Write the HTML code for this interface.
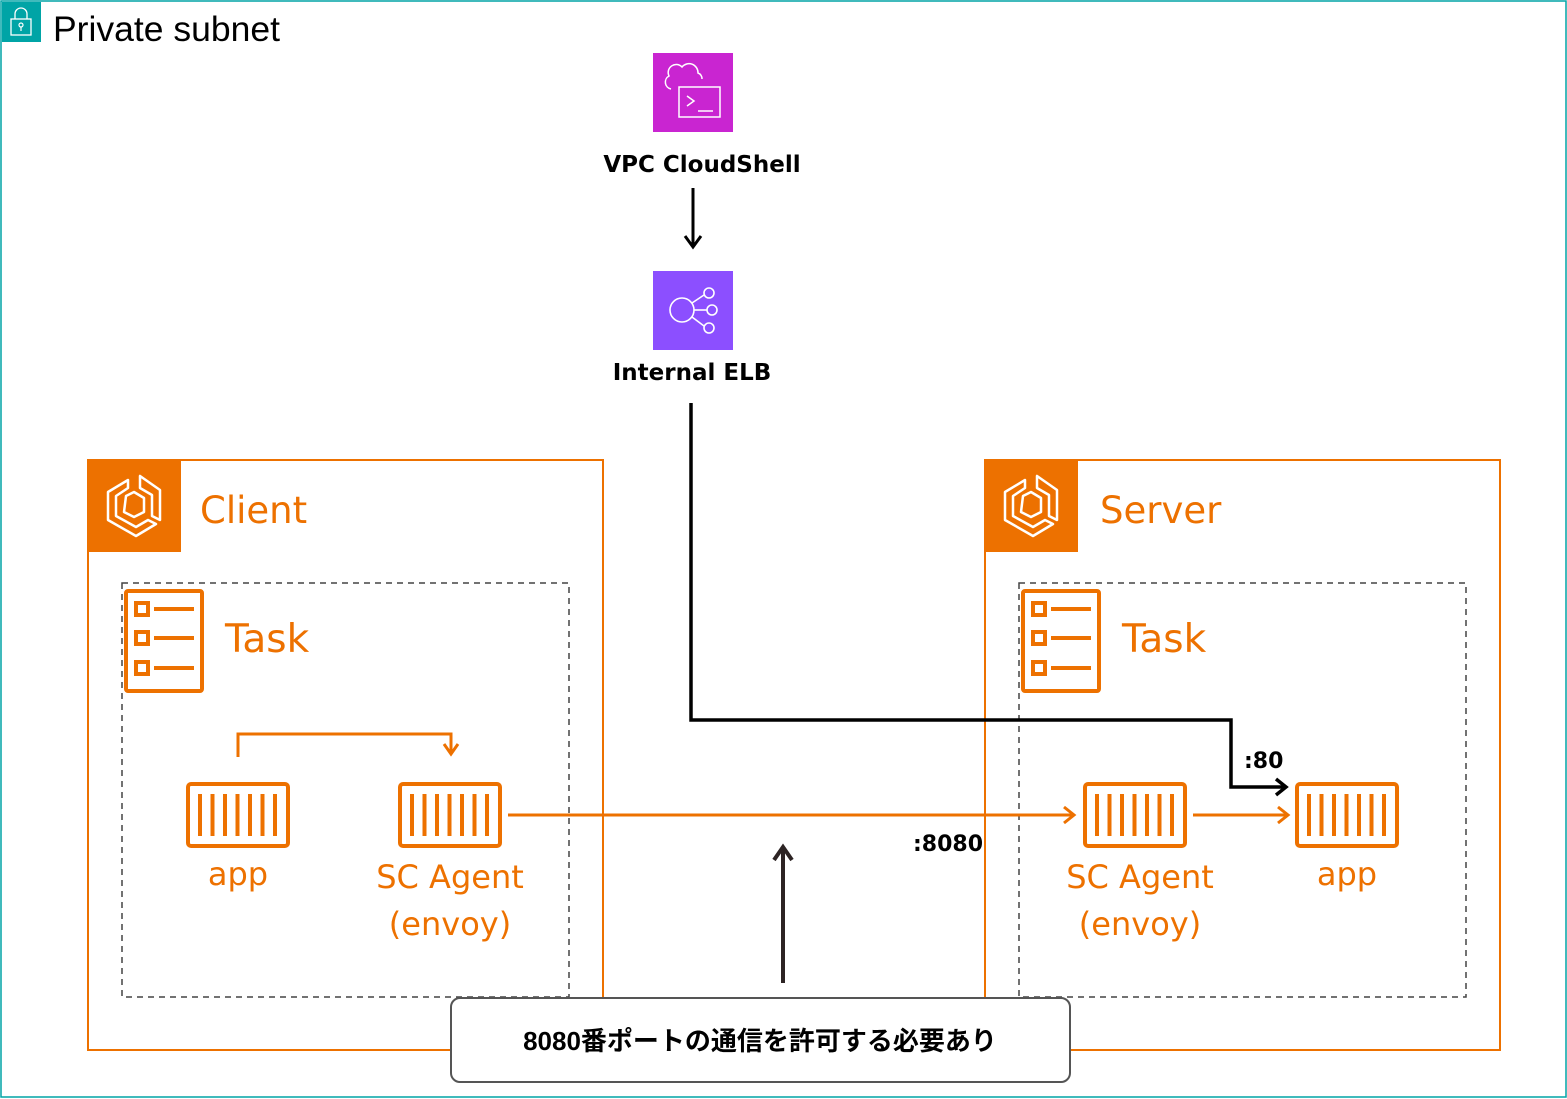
<!DOCTYPE html>
<html><head><meta charset="utf-8"><style>
html,body{margin:0;padding:0;background:#fff}
svg{display:block}
</style></head><body>
<svg width="1567" height="1099" viewBox="0 0 1567 1099" xmlns="http://www.w3.org/2000/svg">
<defs>
<g id="ctr">
<rect x="2" y="2" width="100" height="62" rx="3" fill="none" stroke="#ED7100" stroke-width="4"/>
<g stroke="#ED7100" stroke-width="4">
<line x1="14" y1="12" x2="14" y2="54"/><line x1="26.5" y1="12" x2="26.5" y2="54"/><line x1="39" y1="12" x2="39" y2="54"/><line x1="51.5" y1="12" x2="51.5" y2="54"/><line x1="64" y1="12" x2="64" y2="54"/><line x1="76.5" y1="12" x2="76.5" y2="54"/><line x1="89" y1="12" x2="89" y2="54"/>
</g></g>
<g id="task">
<rect x="2" y="2" width="76" height="100" rx="2" fill="none" stroke="#ED7100" stroke-width="4"/>
<g fill="none" stroke="#ED7100" stroke-width="4">
<rect x="12" y="14" width="12" height="12"/><rect x="12" y="43" width="12" height="12"/><rect x="12" y="73" width="12" height="12"/>
</g>
<g stroke="#ED7100" stroke-width="4"><line x1="30" y1="20" x2="70" y2="20"/><line x1="30" y1="49" x2="70" y2="49"/><line x1="30" y1="79" x2="70" y2="79"/></g>
</g>
<g id="ecs">
<rect x="0" y="0" width="93" height="92" fill="#ED7100"/>
<g fill="none" stroke="#fff" stroke-width="2.5" stroke-linejoin="round">
<path d="M40 20 L20 32 L20 60 L48 76 L68 64 L60 60 L48 67 L28 56 L28 36 L40 28 Z"/>
<path d="M52 16 L52 28 L64 35 L64 56 L72 60 L72 30 Z"/>
<path d="M38 36 L46 32 L56 38 L56 52 L46 57 L36 52 Z"/>
</g></g>
</defs>

<rect x="1" y="1" width="1565" height="1096" fill="none" stroke="#00A4A6" stroke-width="1.5"/>
<rect x="2" y="2" width="39" height="40" fill="#00A4A6"/>
<path d="M15 19 v-5 a6 6 0 0 1 12 0 v5" fill="none" stroke="#fff" stroke-width="1.3"/>
<rect x="11" y="19" width="20" height="16" fill="none" stroke="#fff" stroke-width="1.3"/>
<circle cx="21" cy="25" r="2" fill="none" stroke="#fff" stroke-width="1.2"/><line x1="21" y1="27" x2="21" y2="31" stroke="#fff" stroke-width="1.2"/>
<text x="53" y="41" font-family="Liberation Sans, sans-serif" font-size="35.5" fill="#000">Private subnet</text>

<rect x="653" y="53" width="80" height="79" fill="#C925D1"/>
<path d="M671 89 a7 7 0 0 1 -2 -13 a8 8 0 0 1 13 -9 a9 9 0 0 1 16 6 a6 6 0 0 1 4 6" fill="none" stroke="#fff" stroke-width="1.5"/>
<rect x="679" y="87" width="41" height="30" fill="#C925D1" stroke="#fff" stroke-width="1.5"/>
<path d="M687 96 l7 5 l-7 5" fill="none" stroke="#fff" stroke-width="1.5"/><line x1="698" y1="111" x2="713" y2="111" stroke="#fff" stroke-width="1.5"/>
<text x="702" y="172" text-anchor="middle" font-family="DejaVu Sans, sans-serif" font-weight="bold" font-size="23" fill="#000">VPC CloudShell</text>
<line x1="693" y1="188" x2="693" y2="246" stroke="#000" stroke-width="3"/>
<path d="M685 236 l8 11 l8 -11" fill="none" stroke="#000" stroke-width="3"/>

<rect x="653" y="271" width="80" height="79" fill="#8C4FFF"/>
<g fill="none" stroke="#fff" stroke-width="1.6">
<circle cx="682" cy="310" r="12"/><circle cx="709" cy="293" r="5"/><circle cx="712" cy="310" r="5"/><circle cx="709" cy="328" r="5"/>
<line x1="692" y1="303" x2="704" y2="295"/><line x1="694" y1="310" x2="707" y2="310"/><line x1="692" y1="317" x2="704" y2="326"/>
</g>
<text x="692" y="380" text-anchor="middle" font-family="DejaVu Sans, sans-serif" font-weight="bold" font-size="23" fill="#000">Internal ELB</text>

<rect x="88" y="460" width="515" height="590" fill="none" stroke="#ED7100" stroke-width="2"/>
<use href="#ecs" x="88" y="460"/>
<text x="200" y="523" font-family="DejaVu Sans, sans-serif" font-size="37" fill="#ED7100">Client</text>
<rect x="122" y="583" width="447" height="414" fill="none" stroke="#444" stroke-width="1.5" stroke-dasharray="6 5"/>
<use href="#task" x="124" y="589"/>
<text x="225" y="652" font-family="DejaVu Sans, sans-serif" font-size="39" fill="#ED7100">Task</text>

<rect x="985" y="460" width="515" height="590" fill="none" stroke="#ED7100" stroke-width="2"/>
<use href="#ecs" x="985" y="460"/>
<text x="1100" y="523" font-family="DejaVu Sans, sans-serif" font-size="37" fill="#ED7100">Server</text>
<rect x="1019" y="583" width="447" height="414" fill="none" stroke="#444" stroke-width="1.5" stroke-dasharray="6 5"/>
<use href="#task" x="1021" y="589"/>
<text x="1122" y="652" font-family="DejaVu Sans, sans-serif" font-size="39" fill="#ED7100">Task</text>

<use href="#ctr" x="186" y="782"/>
<use href="#ctr" x="398" y="782"/>
<use href="#ctr" x="1083" y="782"/>
<use href="#ctr" x="1295" y="782"/>
<g font-family="DejaVu Sans, sans-serif" font-size="32" fill="#ED7100" text-anchor="middle">
<text x="238" y="885">app</text>
<text x="450" y="888">SC Agent</text><text x="450" y="935">(envoy)</text>
<text x="1140" y="888">SC Agent</text><text x="1140" y="935">(envoy)</text>
<text x="1347" y="885">app</text>
</g>

<g fill="none" stroke="#ED7100" stroke-width="3">
<path d="M238 757 V734 H451 V754"/>
<path d="M444 744 l7 10 l7 -10"/>
<line x1="508" y1="815" x2="1074" y2="815"/>
<path d="M1064 807 l10 8 l-10 8"/>
<line x1="1193" y1="815" x2="1288" y2="815"/>
<path d="M1278 807 l10 8 l-10 8"/>
</g>
<text x="913" y="851" font-family="DejaVu Sans, sans-serif" font-weight="bold" font-size="22" fill="#000">:8080</text>

<path d="M691 403 V720 H1231 V787 H1286" fill="none" stroke="#000" stroke-width="3.5"/>
<path d="M1276 779 l10 8 l-10 8" fill="none" stroke="#000" stroke-width="3.5"/>
<text x="1244" y="768" font-family="DejaVu Sans, sans-serif" font-weight="bold" font-size="22" fill="#000">:80</text>

<line x1="783" y1="983" x2="783" y2="848" stroke="#2D2424" stroke-width="4"/>
<path d="M774 860 l9 -13 l9 13" fill="none" stroke="#2D2424" stroke-width="4"/>

<rect x="451" y="998" width="619" height="84" rx="9" fill="#fff" stroke="#555" stroke-width="2"/>
<text x="760" y="1050" text-anchor="middle" font-family="Liberation Sans, 'Noto Sans CJK JP', sans-serif" font-weight="bold" font-size="26" fill="#000">8080番ポートの通信を許可する必要あり</text>
</svg>
</body></html>
